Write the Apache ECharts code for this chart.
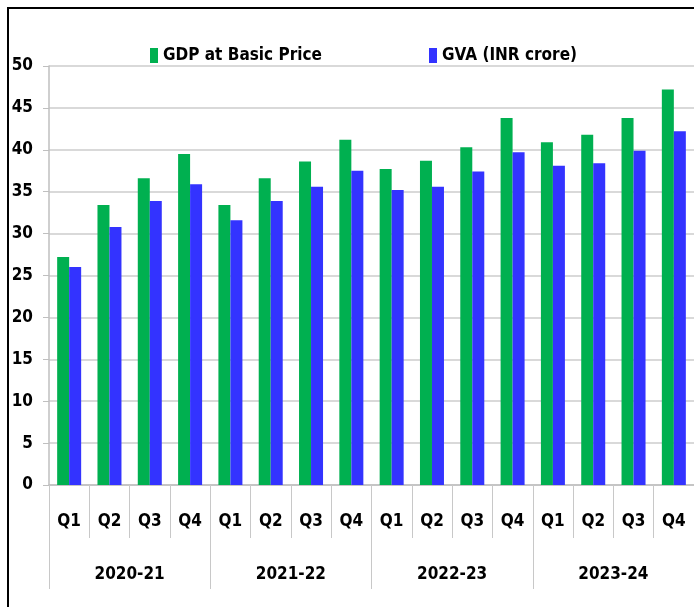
<!DOCTYPE html>
<html><head><meta charset="utf-8">
<script src="https://cdn.jsdelivr.net/npm/echarts@6/dist/echarts.min.js"></script>
<style>html,body{margin:0;padding:0;background:#fff}#c{width:694px;height:607px}</style>
</head><body><div id="c"></div>
<script>
const quarters = ["Q1","Q2","Q3","Q4","Q1","Q2","Q3","Q4","Q1","Q2","Q3","Q4","Q1","Q2","Q3","Q4"];
const years = ["2020-21","2021-22","2022-23","2023-24"];
const gdpBasic = [27.2,33.4,36.6,39.5, 33.4,36.6,38.6,41.2, 37.7,38.7,40.3,43.8, 40.9,41.8,43.8,47.2];
const gva = [26.0,30.8,33.9,35.9, 31.6,33.9,35.6,37.5, 35.2,35.6,37.4,39.7, 38.1,38.4,39.9,42.2];
const yTicks = {min:0, max:50, interval:5};
const FONT = '"Liberation Sans Narrow","DejaVu Sans Condensed","Roboto Condensed",sans-serif';

const chart = echarts.init(document.getElementById('c'));
chart.setOption({
  animation:false,
  backgroundColor:'#fff',
  graphic:[
    {type:'polyline', shape:{points:[[8,607],[8,8],[694,8]]}, style:{stroke:'#000', lineWidth:2, fill:null}}
  ],
  legend:[
    {data:['GDP at Basic Price'], left:145, top:42, icon:'rect', itemWidth:8, itemHeight:15, itemGap:6,
     textStyle:{fontFamily:FONT, fontWeight:'bold', fontSize:17, color:'#000'}},
    {data:['GVA (INR crore)'], left:424, top:42, icon:'rect', itemWidth:8, itemHeight:15, itemGap:6,
     textStyle:{fontFamily:FONT, fontWeight:'bold', fontSize:17, color:'#000'}}
  ],
  grid:{left:49, right:-2, top:66, bottom:122, containLabel:false},
  xAxis:[
    {type:'category', data:quarters, position:'bottom',
     axisLine:{lineStyle:{color:'#bfbfbf', width:1.5}},
     axisTick:{show:true, interval:0, length:53, lineStyle:{color:'#c8c8c8'}},
     axisLabel:{interval:0, margin:28, fontFamily:FONT, fontWeight:'bold', fontSize:17, color:'#000'}},
    {type:'category', data:years, position:'bottom',
     axisLine:{show:false},
     axisTick:{show:true, interval:0, length:104, lineStyle:{color:'#c8c8c8'}},
     axisLabel:{interval:0, margin:81, fontFamily:FONT, fontWeight:'bold', fontSize:17, color:'#000'}}
  ],
  yAxis:{type:'value', min:yTicks.min, max:yTicks.max, interval:yTicks.interval,
    axisLine:{show:true, lineStyle:{color:'#bfbfbf', width:1.5}},
    axisTick:{show:true, length:6, lineStyle:{color:'#bfbfbf'}},
    axisLabel:{margin:16, fontFamily:FONT, fontWeight:'bold', fontSize:17, color:'#000'},
    splitLine:{lineStyle:{color:'#d9d9d9', width:2}}},
  series:[
    {name:'GDP at Basic Price', type:'bar', data:gdpBasic, itemStyle:{color:'#00b050'}, barWidth:12, barGap:'0%'},
    {name:'GVA (INR crore)', type:'bar', data:gva, itemStyle:{color:'#3333ff'}, barWidth:12, barGap:'0%'}
  ]
});
</script></body></html>
